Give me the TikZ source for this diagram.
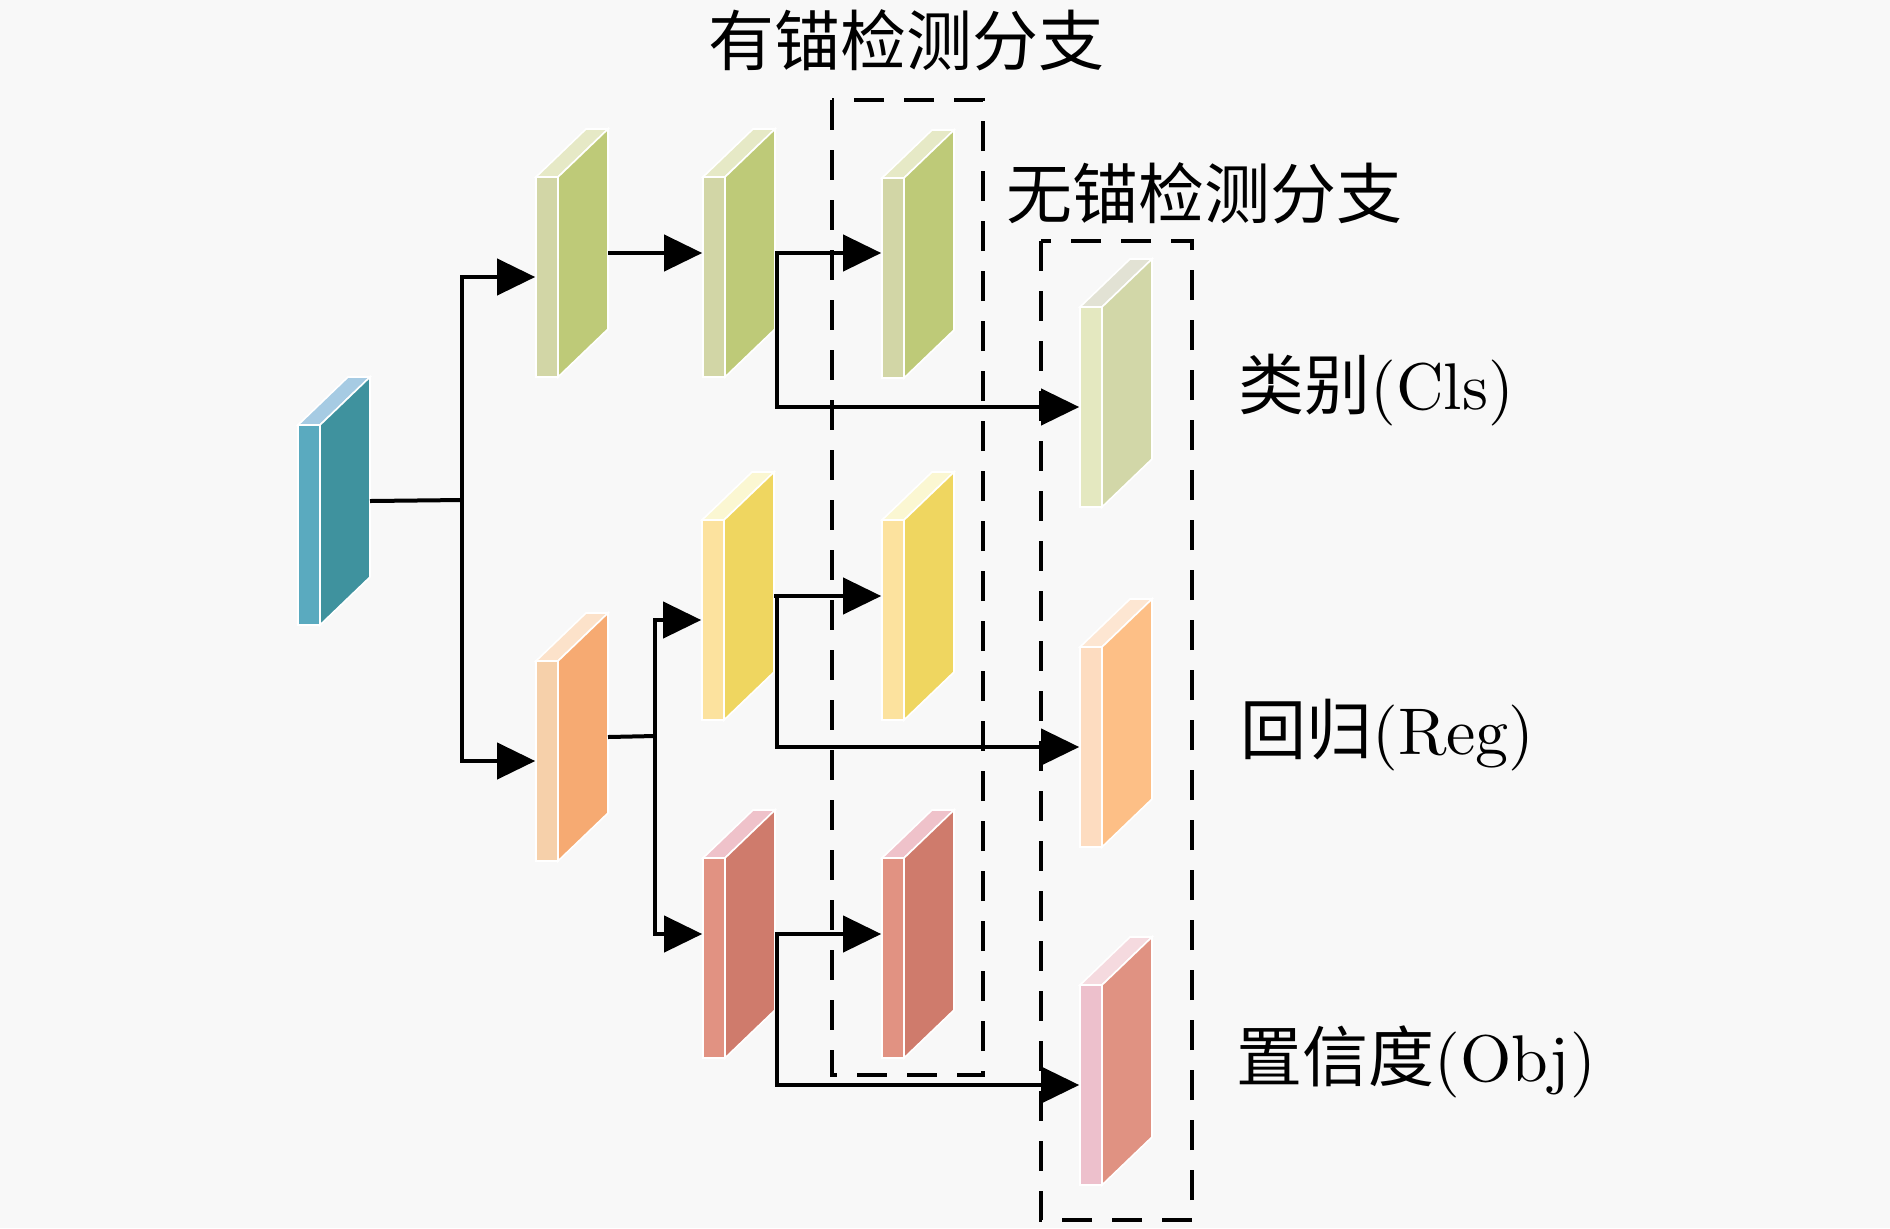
\documentclass[tikz,border=0pt]{standalone}
\usepackage{fontspec}
\setmainfont{lmroman10-regular.otf}
\newfontfamily\cjk{Noto Sans CJK SC}
\usetikzlibrary{arrows.meta}

\definecolor{bgc}{HTML}{F8F8F8}
\definecolor{inF}{HTML}{5AAABF}
\definecolor{inS}{HTML}{3F929E}
\definecolor{inT}{HTML}{A6CBE3}
\definecolor{gnF}{HTML}{D2D6A6}
\definecolor{gnS}{HTML}{BECA78}
\definecolor{gnT}{HTML}{E6E9C6}
\definecolor{clF}{HTML}{E4E8C0}
\definecolor{clS}{HTML}{D2D7A8}
\definecolor{clT}{HTML}{E2E2D4}
\definecolor{orF}{HTML}{F6D0AA}
\definecolor{orS}{HTML}{F6AA72}
\definecolor{orT}{HTML}{FCE2CA}
\definecolor{rgF}{HTML}{FDDCC0}
\definecolor{rgS}{HTML}{FDBF86}
\definecolor{rgT}{HTML}{FDE6D2}
\definecolor{ylF}{HTML}{FCE29E}
\definecolor{ylS}{HTML}{EFD660}
\definecolor{ylT}{HTML}{FBF7D2}
\definecolor{rdF}{HTML}{E19282}
\definecolor{rdS}{HTML}{CF7B6C}
\definecolor{rdT}{HTML}{EFC2CA}
\definecolor{obF}{HTML}{EDC0CC}
\definecolor{obS}{HTML}{E09282}
\definecolor{obT}{HTML}{F5DADF}

% feature map: name, x, top y, front, side, top colour
\newcommand{\fmap}[6]{%
  \filldraw[fill=#6, draw=white, line width=0.8pt] (#2,#3) -- ++(22,0) -- ++(50,-48) -- ++(-22,0) -- cycle;
  \filldraw[fill=#5, draw=white, line width=0.8pt] (#2+22,#3) -- ++(50,-48) -- ++(0,200) -- ++(-50,48) -- cycle;
  \node[front, fill=#4] (#1) at (#2+11,#3+100) {};
  \coordinate (#1-out) at (#2+72,#3+76);
}

\begin{document}
\begin{tikzpicture}[x=0.5pt, y=-0.5pt,
	front/.style={rectangle, draw=white, line width=0.8pt, minimum width=11pt, minimum height=100pt, inner sep=0pt},
	arr/.style={-{Triangle[length=19pt,width=18pt]}, line width=2pt},
	dashbox/.style={dash pattern=on 15pt off 10pt, line width=2pt},
	lab/.style={inner sep=0pt, font=\fontsize{33}{40}\selectfont}]
		\useasboundingbox (0,0) rectangle (1890,1228);
		\fill[bgc] (0,0) rectangle (1890,1228);
		\foreach \n/\x/\y/\f/\s/\t in {in/298/425/inF/inS/inT,
			cls1/536/177/gnF/gnS/gnT, cls2/703/177/gnF/gnS/gnT, cls3/882/178/gnF/gnS/gnT, cls/1080/307/clF/clS/clT,
			ro/536/661/orF/orS/orT, reg1/702/520/ylF/ylS/ylT, reg2/882/520/ylF/ylS/ylT, reg/1080/647/rgF/rgS/rgT,
			obj1/703/858/rdF/rdS/rdT, obj2/882/858/rdF/rdS/rdT, obj/1080/985/obF/obS/obT}
		\fmap{\n}{\x}{\y}{\f}{\s}{\t};
		% split after the input
		\coordinate (j1) at (462,500);
		\draw[line width=2pt] (in-out) -- (j1);
		\draw[arr] (j1) |- (cls1.west);
		\draw[arr] (j1) |- (ro.west);
		\draw[arr] (cls1-out) -- (cls1-out -| cls2.west);
		\draw[arr] (cls2-out) -- (cls2-out -| cls3.west);
		\draw[arr] (cls2-out) ++(2,0) |- (cls.west);
		% split after the orange map
		\coordinate (j2) at (655,736);
		\draw[line width=2pt] (ro-out) -- (j2);
		\draw[arr] (j2) |- (reg1.west);
		\draw[arr] (j2) |- (obj1.west |- obj1-out);
		\draw[arr] (reg1-out) -- (reg1-out -| reg2.west);
		\draw[arr] (reg1-out) ++(3,0) |- (reg.west);
		\draw[arr] (obj1-out) -- (obj1-out -| obj2.west);
		\draw[arr] (obj1-out) ++(2,0) |- (obj.west);
		% branches
		\draw[dashbox] (832,100) rectangle (983,1075);
		\draw[dashbox] (1041,241) rectangle (1192,1220);
		\node[lab] (ab) at (906,40) {\cjk 有锚检测分支};
		\node[lab] (af) at (1204,193) {\cjk 无锚检测分支};
		\node[lab, anchor=west] (lcls) at (1238,390) {{\cjk 类别}(Cls)};
		\node[lab, anchor=west] (lreg) at (1240,735) {{\cjk 回归}(Reg)};
		\node[lab, anchor=west] (lobj) at (1236,1062) {{\cjk 置信度}(Obj)};
\end{tikzpicture}
\end{document}
